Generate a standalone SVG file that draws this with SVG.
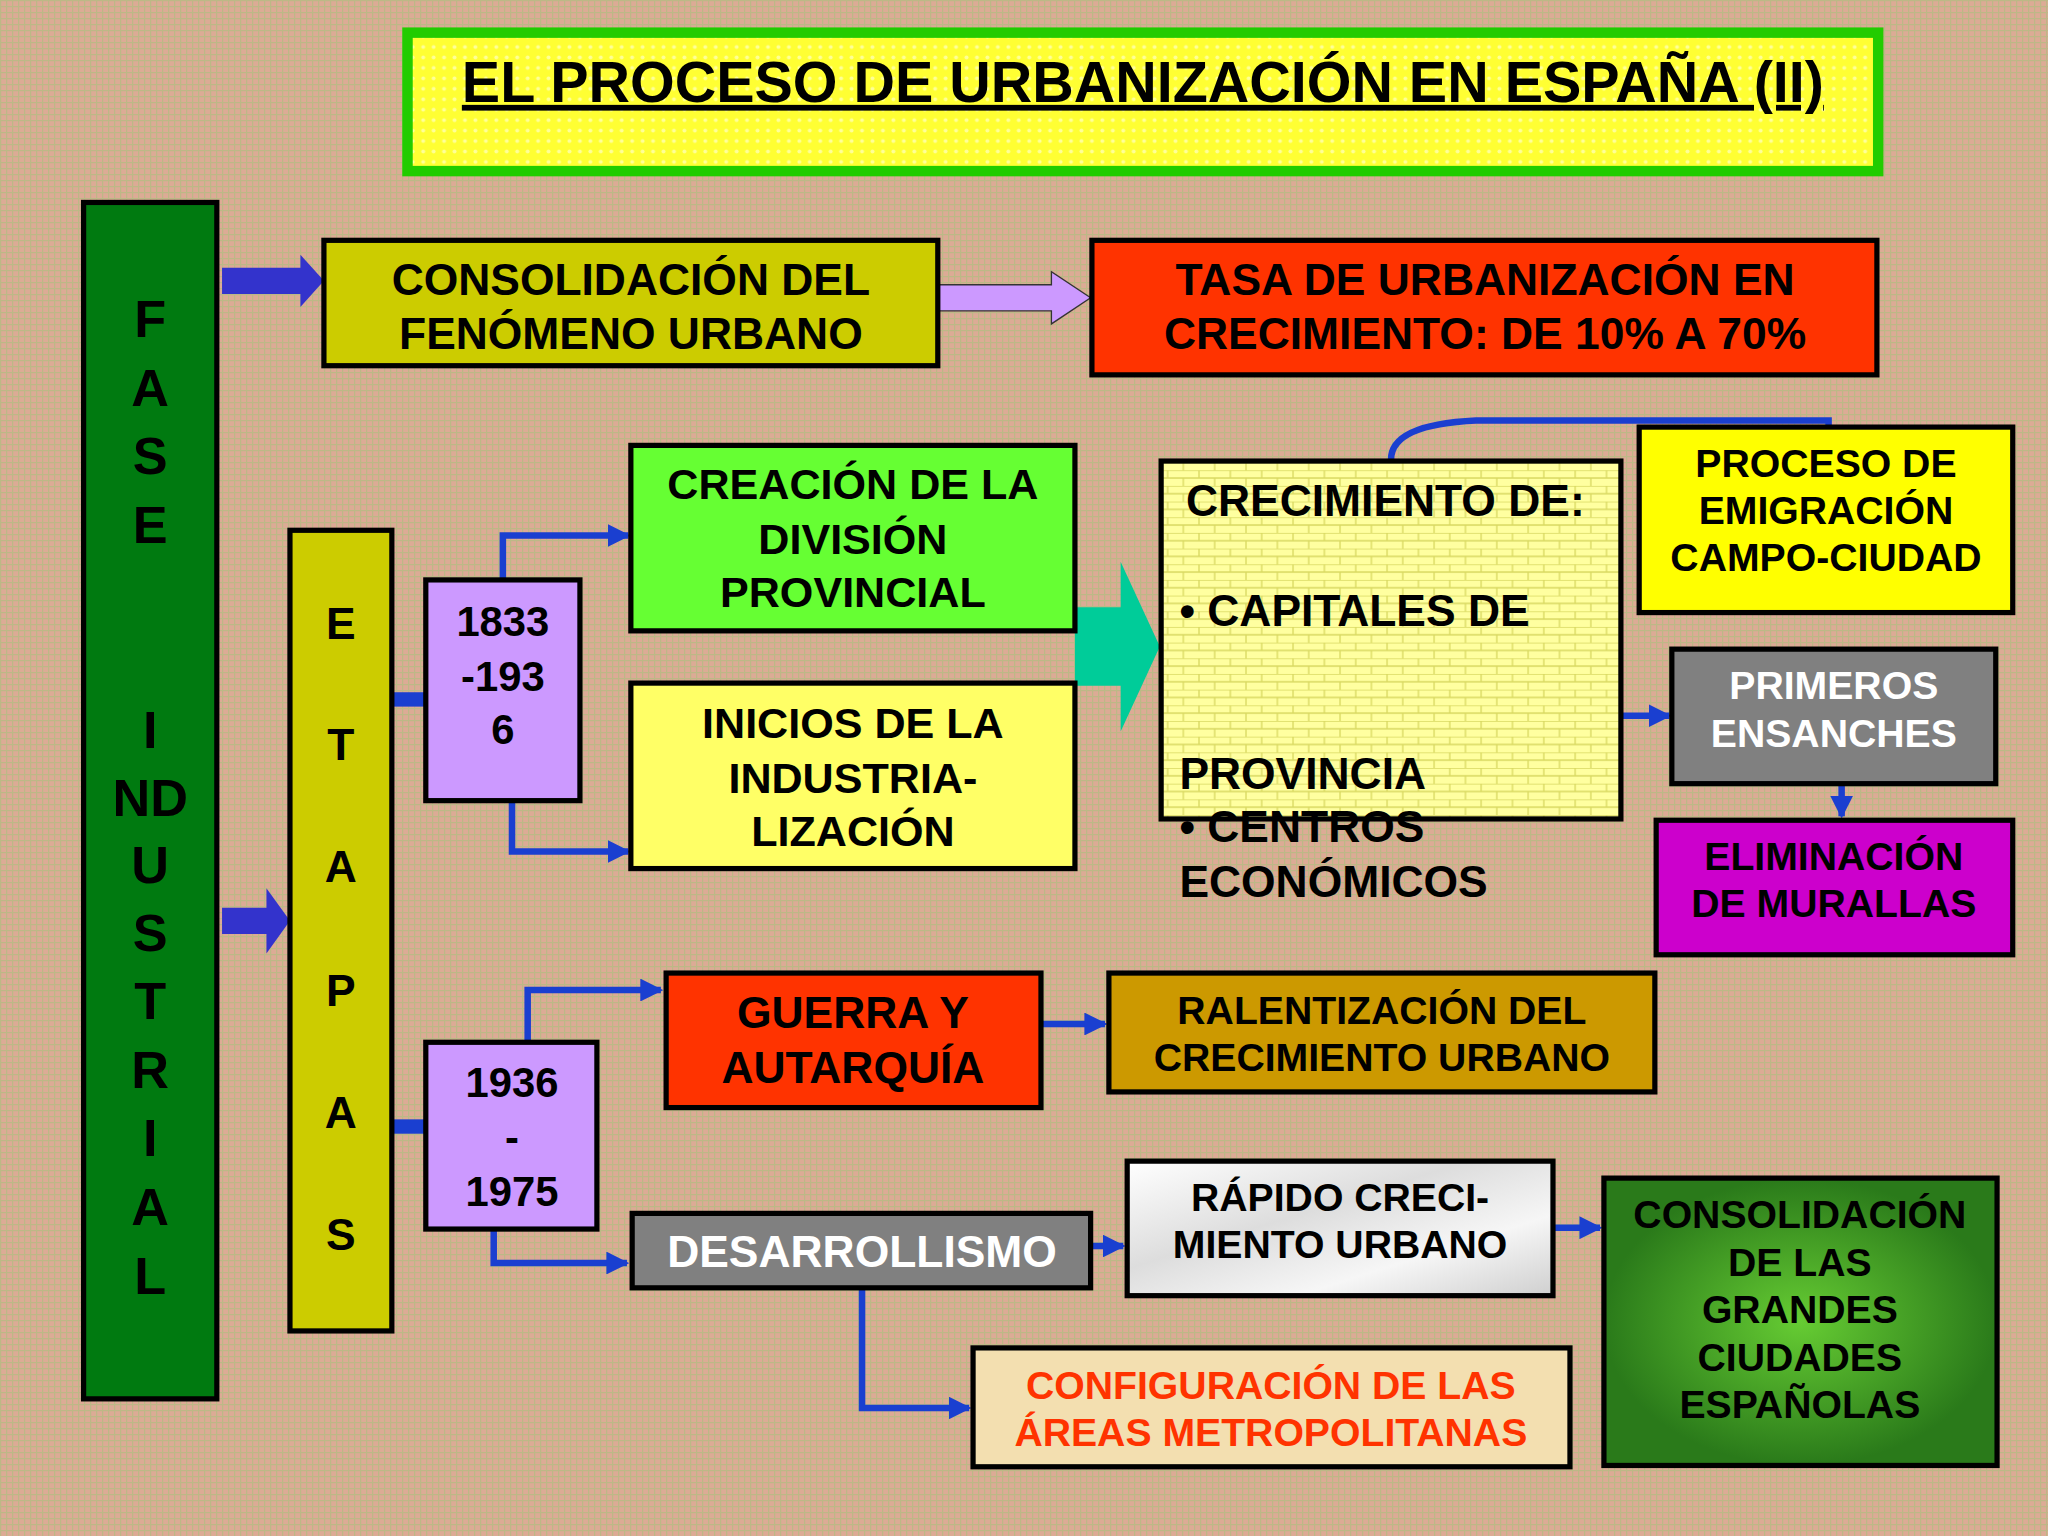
<svg xmlns="http://www.w3.org/2000/svg" width="2048" height="1536" viewBox="0 0 2048 1536">
<defs>
<pattern id="bg" width="6" height="6" patternUnits="userSpaceOnUse"><rect width="6" height="6" fill="#dcab95"/><rect width="6" height="1.2" fill="#bdb886"/><rect width="1.2" height="6" fill="#bdb886"/></pattern>
<pattern id="brick" width="24" height="12" patternUnits="userSpaceOnUse"><rect width="24" height="12" fill="#ffffa0"/><path d="M0 0H24M0 6H24M6 0V6M18 6V12" stroke="#d8d860" stroke-width="1"/></pattern>
<pattern id="ttl" width="8" height="8" patternUnits="userSpaceOnUse"><rect width="8" height="8" fill="#ffff33"/><circle cx="4" cy="4" r="1.5" fill="#ffff99"/></pattern>
<radialGradient id="grn"><stop offset="0" stop-color="#66cc33"/><stop offset="1" stop-color="#2a7a1a"/></radialGradient>
<linearGradient id="marble" x1="0" y1="0" x2="1" y2="1"><stop offset="0" stop-color="#ffffff"/><stop offset=".4" stop-color="#dddddd"/><stop offset=".7" stop-color="#f6f6f6"/><stop offset="1" stop-color="#cfcfcf"/></linearGradient>
<marker id="ah" viewBox="0 0 10 10" refX="9" refY="5" markerWidth="3.5" markerHeight="3.5" orient="auto"><path d="M0 0L10 5L0 10z" fill="#1a3fd0"/></marker>
<style>
.b{stroke:#000;stroke-width:4}
.t{font-family:"Liberation Sans",Arial,sans-serif;font-weight:bold;text-anchor:middle;fill:#000}
.c{fill:none;stroke:#1a3fd0;stroke-width:5;marker-end:url(#ah)}
</style>
</defs>
<rect width="2048" height="1536" fill="url(#bg)"/>
<g transform="scale(1.30612)">
<g id="title"><rect x="312" y="25" width="1126" height="106" fill="url(#ttl)" stroke="#22cc00" stroke-width="8"/>
<text class="t" x="875" y="78" font-size="44" text-decoration="underline">EL PROCESO DE URBANIZACIÓN EN ESPAÑA (II)</text></g>
<g id="fase"><rect class="b" x="64" y="155" width="102" height="916" fill="#007a10" stroke-width="6"/>
<g class="t" font-size="40"><text x="115" y="258">F</text><text x="115" y="311">A</text><text x="115" y="363">S</text><text x="115" y="416">E</text><text x="115" y="573">I</text><text x="115" y="625">ND</text><text x="115" y="676">U</text><text x="115" y="728">S</text><text x="115" y="780">T</text><text x="115" y="833">R</text><text x="115" y="885">I</text><text x="115" y="938">A</text><text x="115" y="991">L</text></g></g>
<g id="arrows">
<path d="M170 205H230V195L248 215L230 235V225H170z" fill="#3333cc"/>
<path d="M170 695H204V680L222 705L204 730V715H170z" fill="#3333cc"/>
<path d="M719 218H805V208L835 228L805 248V238H719z" fill="#cc99ff" stroke="#333" stroke-width="1"/>
<path d="M823 465H858V430L888 495L858 560V525H823z" fill="#00cc99"/>
<rect x="301" y="530" width="25" height="11" fill="#1a3fd0"/>
<rect x="301" y="857" width="25" height="11" fill="#1a3fd0"/>
</g>
<g id="connectors">
<path class="c" d="M385 443V410H481"/>
<path class="c" d="M392 613V652H481"/>
<path class="c" d="M1241 548H1278"/>
<path class="c" d="M1410 600V625"/>
<path class="c" d="M404 797V758H506"/>
<path class="c" d="M797 784H846"/>
<path class="c" d="M378 941V967H480"/>
<path class="c" d="M835 954H860"/>
<path class="c" d="M1189 940H1225"/>
<path class="c" d="M660 986V1078H742"/>
<path d="M1065 352Q1065 325 1130 322L1400 322V326" fill="none" stroke="#1a3fd0" stroke-width="5"/>
</g>
<g id="consol"><rect class="b" x="248" y="184" width="470" height="96" fill="#cccc00"/><text class="t" font-size="34" x="483" y="226">CONSOLIDACIÓN DEL</text><text class="t" font-size="34" x="483" y="267">FENÓMENO URBANO</text></g>
<g id="tasa"><rect class="b" x="836" y="184" width="601" height="103" fill="#ff3300" stroke-width="5"/><text class="t" font-size="34" x="1137" y="226">TASA DE URBANIZACIÓN EN</text><text class="t" font-size="34" x="1137" y="267">CRECIMIENTO: DE 10% A 70%</text></g>
<g id="etapas"><rect class="b" x="222" y="406" width="78" height="613" fill="#cccc00"/>
<g class="t" font-size="34"><text x="261" y="489">E</text><text x="261" y="582">T</text><text x="261" y="675">A</text><text x="261" y="770">P</text><text x="261" y="864">A</text><text x="261" y="957">S</text></g></g>
<g id="y1833"><rect class="b" x="326" y="444" width="118" height="169" fill="#cc99ff"/><g class="t" font-size="32"><text x="385" y="487">1833</text><text x="385" y="529">-193</text><text x="385" y="570">6</text></g></g>
<g id="creacion"><rect class="b" x="483" y="341" width="340" height="142" fill="#66ff33"/><g class="t" font-size="33"><text x="653" y="382">CREACIÓN DE LA</text><text x="653" y="424">DIVISIÓN</text><text x="653" y="465">PROVINCIAL</text></g></g>
<g id="inicios"><rect class="b" x="483" y="523" width="340" height="142" fill="#ffff66"/><g class="t" font-size="33"><text x="653" y="565">INICIOS DE LA</text><text x="653" y="607">INDUSTRIA-</text><text x="653" y="648">LIZACIÓN</text></g></g>
<g id="crecimiento"><rect class="b" x="889" y="353" width="352" height="274" fill="url(#brick)"/><g class="t" font-size="34" style="text-anchor:start"><text x="908" y="395">CRECIMIENTO DE:</text><text x="903" y="479">• CAPITALES DE</text><text x="903" y="604">PROVINCIA</text><text x="903" y="645">• CENTROS</text><text x="903" y="687">ECONÓMICOS</text></g></g>
<g id="proceso"><rect class="b" x="1255" y="327" width="286" height="142" fill="#ffff00"/><g class="t" font-size="30"><text x="1398" y="365">PROCESO DE</text><text x="1398" y="401">EMIGRACIÓN</text><text x="1398" y="437">CAMPO-CIUDAD</text></g></g>
<g id="primeros"><rect class="b" x="1280" y="497" width="248" height="103" fill="#808080"/><g class="t" font-size="30" style="fill:#fff"><text x="1404" y="535">PRIMEROS</text><text x="1404" y="572">ENSANCHES</text></g></g>
<g id="eliminacion"><rect class="b" x="1268" y="628" width="273" height="103" fill="#cc00cc"/><g class="t" font-size="30"><text x="1404" y="666">ELIMINACIÓN</text><text x="1404" y="702">DE MURALLAS</text></g></g>
<g id="y1936"><rect class="b" x="326" y="798" width="131" height="143" fill="#cc99ff"/><g class="t" font-size="32"><text x="392" y="840">1936</text><text x="392" y="882">-</text><text x="392" y="923">1975</text></g></g>
<g id="guerra"><rect class="b" x="510" y="745" width="287" height="103" fill="#ff3300"/><g class="t" font-size="34"><text x="653" y="787">GUERRA Y</text><text x="653" y="829">AUTARQUÍA</text></g></g>
<g id="ralent"><rect class="b" x="849" y="745" width="418" height="91" fill="#cc9900"/><g class="t" font-size="30"><text x="1058" y="784">RALENTIZACIÓN DEL</text><text x="1058" y="820">CRECIMIENTO URBANO</text></g></g>
<g id="desarr"><rect class="b" x="484" y="929" width="351" height="57" fill="#808080"/><text class="t" font-size="34" x="660" y="970" style="fill:#fff">DESARROLLISMO</text></g>
<g id="rapido"><rect class="b" x="863" y="889" width="326" height="103" fill="url(#marble)"/><g class="t" font-size="30"><text x="1026" y="927">RÁPIDO CRECI-</text><text x="1026" y="963">MIENTO URBANO</text></g></g>
<g id="grandes"><rect class="b" x="1228" y="902" width="301" height="220" fill="url(#grn)"/><g class="t" font-size="30"><text x="1378" y="940">CONSOLIDACIÓN</text><text x="1378" y="977">DE LAS</text><text x="1378" y="1013">GRANDES</text><text x="1378" y="1050">CIUDADES</text><text x="1378" y="1086">ESPAÑOLAS</text></g></g>
<g id="config"><rect class="b" x="745" y="1032" width="457" height="91" fill="#f3dfb0"/><g class="t" font-size="30" style="fill:#ff3300"><text x="973" y="1071">CONFIGURACIÓN DE LAS</text><text x="973" y="1107">ÁREAS METROPOLITANAS</text></g></g>
</g>
</svg>
